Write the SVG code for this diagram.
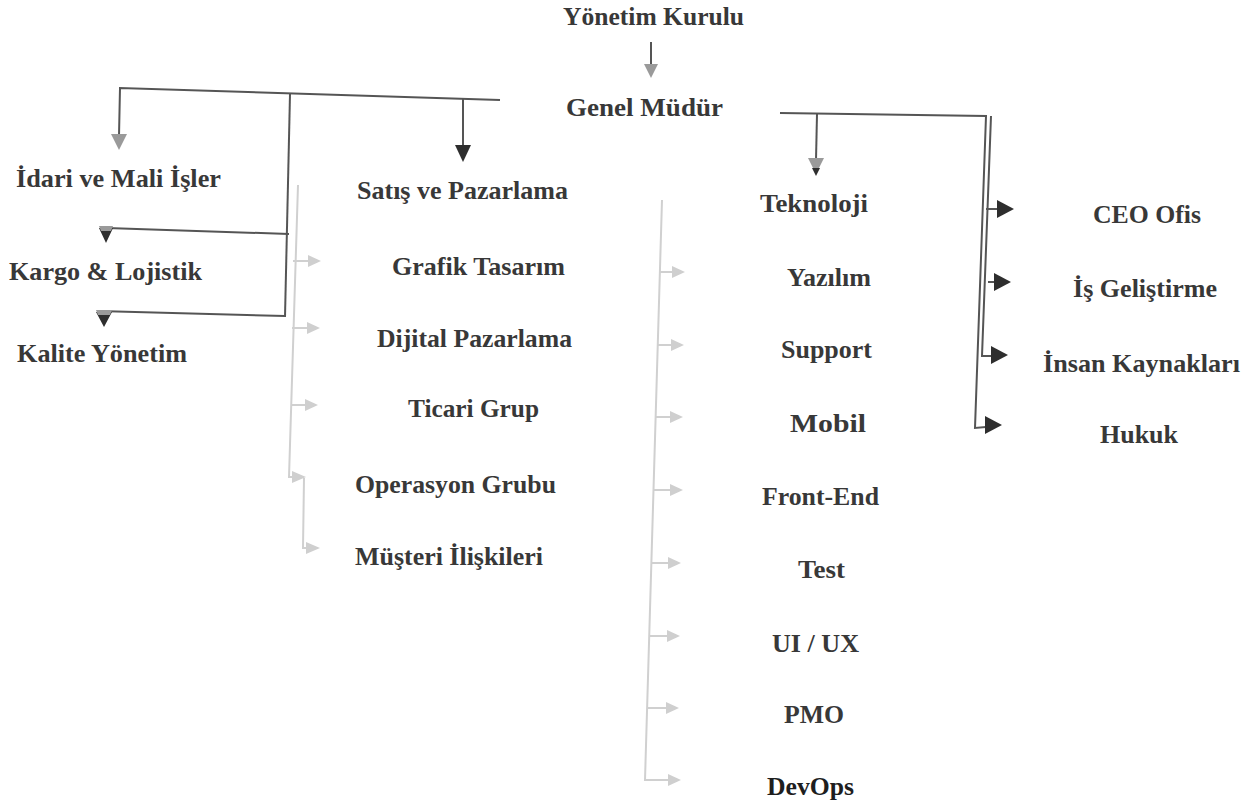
<svg xmlns="http://www.w3.org/2000/svg" width="1255" height="810" viewBox="0 0 1255 810">
<style>
text{font-family:"Liberation Serif","Times New Roman",serif;font-weight:bold;font-size:26px;fill:#383838}
.d{fill:none;stroke:#555;stroke-width:2}
.l{fill:none;stroke:#d0d0d0;stroke-width:2}
.hb{fill:#2e2e2e}
.hg{fill:#9a9a9a}
.hl{fill:#cfcfcf}
</style>
<rect width="1255" height="810" fill="#fff"/>
<g id="connectors">
  <line class="d" x1="651" y1="42" x2="651" y2="66" stroke="#888"/>
  <polygon class="hg" points="644,64 658,64 651,78"/>
  <polyline class="d" points="500,100 120,88 119,136"/>
  <polygon class="hg" points="111,134 127,134 119,150"/>
  <polyline class="d" points="463,99 463,146"/>
  <polygon class="hb" points="455,145 471,145 463,162"/>
  <polyline class="d" points="290,94 285,317"/>
  <polyline class="d" points="289,234 107,228"/>
  <polygon class="hb" points="99,228 113,228 106,243"/>
  <polygon class="hg" points="99,226 113,226 111,231 101,231"/>
  <polyline class="d" points="285,316 98,311"/>
  <polygon class="hb" points="96,312 112,312 104,327"/>
  <polygon class="hg" points="96,310 112,310 110,315 98,315"/>
  <polyline class="d" points="780,113 986,116 975,428 986,427"/>
  <polyline class="d" points="991,116 982,356 992,356"/>
  <polyline class="d" points="817,114 816,160"/>
  <polygon class="hg" points="808,158 824,158 816,174"/>
  <polygon class="hb" points="812,168 820,168 816,176"/>
  <line class="d" x1="986" y1="209" x2="999" y2="209"/>
  <polygon class="hb" points="997,200 1014,209 997,218"/>
  <line class="d" x1="988" y1="282" x2="996" y2="282"/>
  <polygon class="hb" points="994,273 1011,282 994,291"/>
  <polygon class="hb" points="991,346 1008,355 991,364"/>
  <polygon class="hb" points="985,416 1002,425 985,434"/>
  <polyline class="l" points="298,185 289,477 303,477"/>
  <polyline class="l" points="304,478 303,548 310,548"/>
  <line class="l" x1="293" y1="261" x2="310" y2="261"/>
  <polygon class="hl" points="308,255 321,261 308,267"/>
  <line class="l" x1="292" y1="328" x2="309" y2="328"/>
  <polygon class="hl" points="307,322 320,328 307,334"/>
  <line class="l" x1="291" y1="405" x2="307" y2="405"/>
  <polygon class="hl" points="305,399 318,405 305,411"/>
  <polygon class="hl" points="292,471 306,477 292,483"/>
  <polygon class="hl" points="306,542 320,548 306,554"/>
  <polyline class="l" points="662,200 645,780 670,780"/>
  <line class="l" x1="659" y1="272" x2="674" y2="272"/>
  <polygon class="hl" points="672,266 685,272 672,278"/>
  <line class="l" x1="657" y1="345" x2="673" y2="345"/>
  <polygon class="hl" points="671,339 684,345 671,351"/>
  <line class="l" x1="655" y1="417" x2="672" y2="417"/>
  <polygon class="hl" points="670,411 683,417 670,423"/>
  <line class="l" x1="653" y1="490" x2="672" y2="490"/>
  <polygon class="hl" points="670,484 683,490 670,496"/>
  <line class="l" x1="651" y1="563" x2="670" y2="563"/>
  <polygon class="hl" points="668,557 681,563 668,569"/>
  <line class="l" x1="649" y1="636" x2="669" y2="636"/>
  <polygon class="hl" points="667,630 680,636 667,642"/>
  <line class="l" x1="648" y1="708" x2="668" y2="708"/>
  <polygon class="hl" points="666,702 679,708 666,714"/>
  <polygon class="hl" points="668,774 681,780 668,786"/>
</g>
<g id="n-yonetim"><text x="563" y="25" textLength="181" lengthAdjust="spacingAndGlyphs">Yönetim Kurulu</text></g>
<g id="n-genel"><text x="566" y="116" textLength="157" lengthAdjust="spacingAndGlyphs">Genel Müdür</text></g>
<g id="n-idari"><text x="16" y="187" textLength="205" lengthAdjust="spacingAndGlyphs">İdari ve Mali İşler</text></g>
<g id="n-satis"><text x="357" y="199" textLength="211" lengthAdjust="spacingAndGlyphs">Satış ve Pazarlama</text></g>
<g id="n-teknoloji"><text x="760" y="212" textLength="108" lengthAdjust="spacingAndGlyphs">Teknoloji</text></g>
<g id="n-kargo"><text x="9" y="280" textLength="193" lengthAdjust="spacingAndGlyphs">Kargo &amp; Lojistik</text></g>
<g id="n-kalite"><text x="17" y="362" textLength="170" lengthAdjust="spacingAndGlyphs">Kalite Yönetim</text></g>
<g id="n-grafik"><text x="392" y="275" textLength="173" lengthAdjust="spacingAndGlyphs">Grafik Tasarım</text></g>
<g id="n-dijital"><text x="377" y="347" textLength="195" lengthAdjust="spacingAndGlyphs">Dijital Pazarlama</text></g>
<g id="n-ticari"><text x="408" y="417" textLength="131" lengthAdjust="spacingAndGlyphs">Ticari Grup</text></g>
<g id="n-operasyon"><text x="355" y="493" textLength="201" lengthAdjust="spacingAndGlyphs">Operasyon Grubu</text></g>
<g id="n-musteri"><text x="355" y="565" textLength="188" lengthAdjust="spacingAndGlyphs">Müşteri İlişkileri</text></g>
<g id="n-yazilim"><text x="787" y="286" textLength="84" lengthAdjust="spacingAndGlyphs">Yazılım</text></g>
<g id="n-support"><text x="781" y="358" textLength="91" lengthAdjust="spacingAndGlyphs">Support</text></g>
<g id="n-mobil"><text x="790" y="432" textLength="76" lengthAdjust="spacingAndGlyphs">Mobil</text></g>
<g id="n-frontend"><text x="762" y="505" textLength="117" lengthAdjust="spacingAndGlyphs">Front-End</text></g>
<g id="n-test"><text x="798" y="578" textLength="47" lengthAdjust="spacingAndGlyphs">Test</text></g>
<g id="n-uiux"><text x="772" y="652" textLength="87" lengthAdjust="spacingAndGlyphs">UI / UX</text></g>
<g id="n-pmo"><text x="784" y="723" textLength="60" lengthAdjust="spacingAndGlyphs">PMO</text></g>
<g id="n-devops"><text x="767" y="795" textLength="87" lengthAdjust="spacingAndGlyphs" style="fill:#1e1e1e">DevOps</text></g>
<g id="n-ceo"><text x="1093" y="223" textLength="108" lengthAdjust="spacingAndGlyphs">CEO Ofis</text></g>
<g id="n-is"><text x="1073" y="297" textLength="144" lengthAdjust="spacingAndGlyphs">İş Geliştirme</text></g>
<g id="n-insan"><text x="1043" y="372" textLength="197" lengthAdjust="spacingAndGlyphs">İnsan Kaynakları</text></g>
<g id="n-hukuk"><text x="1100" y="443" textLength="78" lengthAdjust="spacingAndGlyphs">Hukuk</text></g>
</svg>
